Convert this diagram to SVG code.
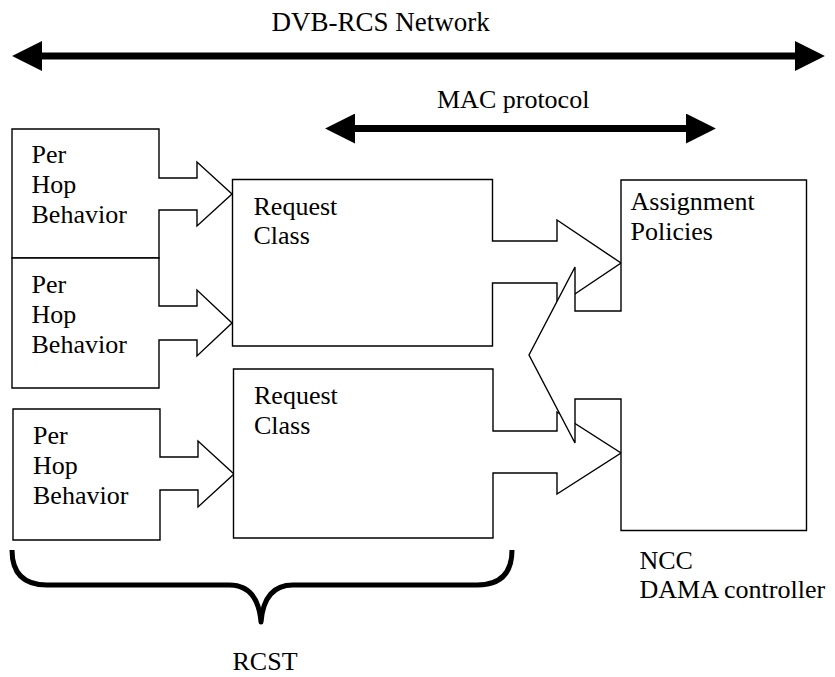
<svg xmlns="http://www.w3.org/2000/svg" width="835" height="677" viewBox="0 0 835 677">
<defs>
<style>
.shape{fill:#fff;stroke:#000;stroke-width:1.4;stroke-linejoin:miter}
.lbl{font-size:26px;fill:#000}
.dbl{stroke:#000;stroke-width:7;fill:none}
</style>
<marker id="head" markerUnits="userSpaceOnUse" markerWidth="30" markerHeight="30" viewBox="0 0 29 29" refX="3" refY="14.5" orient="auto-start-reverse">
<path d="M0,0 L29,14.5 L0,29 z" fill="#000"/>
</marker>
</defs>
<rect width="835" height="677" fill="#fff"/>

<g id="connectors">
<line class="dbl" x1="39" y1="56" x2="798" y2="56" marker-start="url(#head)" marker-end="url(#head)"/>
<line class="dbl" x1="352" y1="128.5" x2="689" y2="128.5" marker-start="url(#head)" marker-end="url(#head)"/>
<path id="rcst-brace" d="M12,550 Q12,585 47,585 L229,585 Q258,585 261,622 Q264,585 293,585 L477,585 Q512,585 512,550" fill="none" stroke="#000" stroke-width="5" stroke-linejoin="round"/>
</g>

<g font-family="'Liberation Serif', 'Times New Roman', Times, 'DejaVu Serif', serif">
<text class="lbl" x="271.5" y="31" style="font-size:27px">DVB-RCS Network</text>
<text class="lbl" x="437" y="108">MAC protocol</text>

<g id="phb1">
<polygon class="shape" points="12,129 159,129 159,178 197,178 197,162 232,194 197,226 197,210 159,210 159,258 12,258"/>
<text class="lbl" x="31.5" y="163">Per</text>
<text class="lbl" x="31.5" y="193">Hop</text>
<text class="lbl" x="31.5" y="223">Behavior</text>
</g>

<g id="phb2">
<polygon class="shape" points="12,258 159,258 159,306 197,306 197,290 232,323 197,356 197,340 159,340 159,388 12,388"/>
<text class="lbl" x="31.5" y="293">Per</text>
<text class="lbl" x="31.5" y="323">Hop</text>
<text class="lbl" x="31.5" y="353">Behavior</text>
</g>

<g id="phb3">
<polygon class="shape" points="13,409 160,409 160,457 198,457 198,441 234,474 198,507 198,490 160,490 160,540 13,540"/>
<text class="lbl" x="33" y="444">Per</text>
<text class="lbl" x="33" y="474">Hop</text>
<text class="lbl" x="33" y="504">Behavior</text>
</g>

<g id="request-class-1">
<polygon class="shape" points="232.5,179.5 492.5,179.5 492.5,241 557,241 557,220 621,263 557,306 557,283 492.5,283 492.5,346 232.5,346"/>
<text class="lbl" x="253.5" y="215">Request</text>
<text class="lbl" x="253.5" y="244">Class</text>
</g>

<g id="request-class-2">
<polygon class="shape" points="233.5,369 493,369 493,431 557,431 557,412 621,453 557,494 557,473 493,473 493,538 233.5,538"/>
<text class="lbl" x="254" y="404">Request</text>
<text class="lbl" x="254" y="434">Class</text>
</g>

<g id="assignment-policies">
<polygon class="shape" points="621,180 806.5,180 806.5,530.5 621,530.5 621,399 575,399 575,443 529,355 575,267 575,311 621,311"/>
<text class="lbl" x="630.5" y="210">Assignment</text>
<text class="lbl" x="630.5" y="240">Policies</text>
</g>

<g id="ncc-label">
<text class="lbl" x="639.5" y="569">NCC</text>
<text class="lbl" x="639.5" y="598">DAMA controller</text>
</g>

<g id="rcst-label">
<text class="lbl" x="265" y="670" text-anchor="middle">RCST</text>
</g>
</g>
</svg>
